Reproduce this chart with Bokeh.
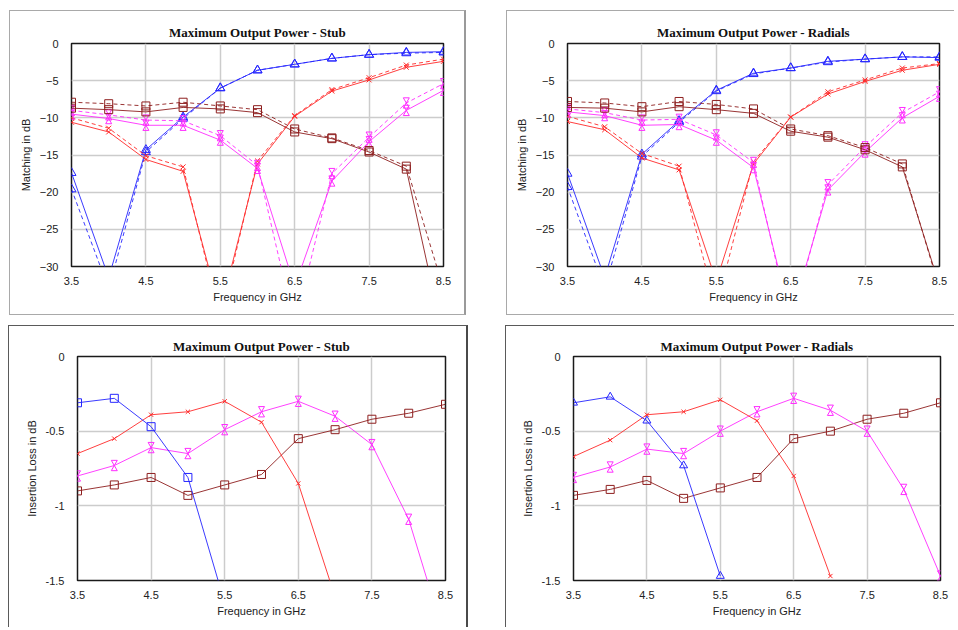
from bokeh.plotting import figure
from bokeh.layouts import column, row
from bokeh.models import FixedTicker, ColumnDataSource
from bokeh.transform import dodge
from bokeh.embed import file_html
from bokeh.resources import INLINE

# ---------------- data ----------------
freq = [3.5, 4.0, 4.5, 5.0, 5.5, 6.0, 6.5, 7.0, 7.5, 8.0, 8.5]
x_ticks = [3.5, 4.5, 5.5, 6.5, 7.5, 8.5]
match_ticks = [0, -5, -10, -15, -20, -25, -30]
loss_ticks = [0, -0.5, -1, -1.5]
loss_tick_labels = ["0", "-0.5", "-1", "-1.5"]

titles = ["Maximum Output Power - Stub", "Maximum Output Power - Radials",
          "Maximum Output Power - Stub", "Maximum Output Power - Radials"]
match_label = "Matching in dB"
loss_label = "Insertion Loss in dB"
freq_label = "Frequency in GHz"

# Matching, stub (solid / dashed)
stub_blue_solid = [-17.4, -31.5, -14.3, -9.9, -6.0, -3.6, -2.8, -2.0, -1.5, -1.2, -1.1]
stub_blue_dash = [-19.6, -33.0, -14.6, -10.1, -6.0, -3.6, -2.8, -2.0, -1.5, -1.3, -1.2]
stub_red_solid = [-10.6, -11.9, -15.6, -17.2, -36.0, -16.2, -9.8, -6.4, -4.9, -3.2, -2.4]
stub_red_dash = [-10.0, -11.4, -15.1, -16.6, -37.0, -15.8, -9.7, -6.2, -4.6, -2.9, -2.1]
stub_mag_solid = [-9.5, -10.1, -11.0, -11.0, -13.0, -16.8, -32.7, -18.5, -13.2, -9.0, -6.3]
stub_mag_dash = [-9.0, -9.6, -10.3, -10.4, -12.4, -16.4, -38.0, -17.5, -12.6, -8.0, -5.4]
stub_brown_solid = [-8.7, -8.9, -9.2, -8.6, -8.8, -9.3, -11.9, -12.8, -14.6, -16.9, -39.6]
stub_brown_dash = [-7.9, -8.1, -8.4, -7.9, -8.4, -8.9, -11.5, -12.7, -14.4, -16.5, -33.0]

# Matching, radials (solid / dashed)
rad_blue_solid = [-17.5, -31.5, -14.9, -10.4, -6.3, -4.0, -3.3, -2.4, -2.1, -1.8, -1.9]
rad_blue_dash = [-19.3, -33.0, -15.2, -10.6, -6.4, -4.1, -3.3, -2.5, -2.1, -1.8, -1.8]
rad_red_solid = [-10.5, -11.6, -15.4, -17.0, -32.0, -16.2, -9.9, -6.8, -5.1, -3.6, -2.8]
rad_red_dash = [-9.8, -11.2, -14.8, -16.5, -35.5, -15.9, -9.9, -6.5, -4.9, -3.3, -2.7]
rad_mag_solid = [-9.2, -9.7, -11.0, -10.9, -13.0, -16.7, -37.0, -19.7, -14.6, -10.0, -7.1]
rad_mag_dash = [-8.8, -9.3, -10.3, -10.2, -12.3, -16.0, -38.0, -19.0, -13.9, -9.3, -6.5]
rad_brown_solid = [-8.6, -8.7, -9.2, -8.5, -8.9, -9.4, -11.8, -12.6, -14.3, -16.6, -32.6]
rad_brown_dash = [-7.8, -8.0, -8.5, -7.8, -8.2, -8.8, -11.5, -12.4, -14.0, -16.2, -33.0]

# Insertion loss, stub
il_stub_blue = [-0.31, -0.28, -0.47, -0.81, -1.65]
il_stub_red = [-0.65, -0.55, -0.39, -0.37, -0.30, -0.44, -0.85, -1.61]
il_stub_mag = [-0.80, -0.73, -0.61, -0.65, -0.49, -0.37, -0.30, -0.40, -0.59, -1.09, -1.90]
il_stub_brown = [-0.90, -0.86, -0.81, -0.93, -0.86, -0.79, -0.55, -0.49, -0.42, -0.38, -0.32]

# Insertion loss, radials
il_rad_blue = [-0.31, -0.27, -0.43, -0.73, -1.47]
il_rad_red = [-0.67, -0.56, -0.39, -0.37, -0.29, -0.43, -0.80, -1.47]
il_rad_mag = [-0.81, -0.74, -0.62, -0.65, -0.50, -0.37, -0.28, -0.36, -0.50, -0.89, -1.47]
il_rad_brown = [-0.93, -0.89, -0.83, -0.95, -0.88, -0.81, -0.55, -0.50, -0.42, -0.38, -0.31]

# ---------------- styling ----------------
BLUE = "#2626ff"
RED = "#ff2a2a"
MAG = "#ff2cff"
BROWN = "#8e1f1f"
GRID = "#cccccc"
SANS = "Liberation Sans"
SERIF = "Liberation Serif"


def make_fig(title, ylabel, yrange, yticks, w, h, bl, br, bt, bb, styles, margin, tstand):
    p = figure(width=w, height=h, x_range=(3.5, 8.5), y_range=yrange,
               output_backend="svg", toolbar_location=None,
               min_border_left=bl, min_border_right=br,
               min_border_top=bt, min_border_bottom=bb,
               background_fill_color="white", border_fill_color="white")
    p.styles = styles
    p.margin = margin
    p.title.text = title
    p.title.text_font = SERIF
    p.title.text_font_style = "bold"
    p.title.text_font_size = "13px"
    p.title.align = "center"
    p.title.standoff = tstand
    p.title.text_color = "#111111"
    p.outline_line_color = "#1a1a1a"
    p.outline_line_width = 1.5
    p.xaxis.ticker = FixedTicker(ticks=x_ticks)
    p.yaxis.ticker = FixedTicker(ticks=yticks)
    p.xgrid.ticker = FixedTicker(ticks=x_ticks)
    p.ygrid.ticker = FixedTicker(ticks=yticks)
    p.grid.grid_line_color = GRID
    p.grid.grid_line_width = 1.5
    p.axis.axis_line_color = None
    p.axis.major_tick_line_color = None
    p.axis.minor_tick_line_color = None
    p.axis.major_tick_out = 0
    p.axis.major_tick_in = 0
    p.axis.major_label_text_font = SANS
    p.axis.major_label_text_font_size = "11px"
    p.axis.major_label_text_color = "#222222"
    p.axis.axis_label_text_font = SANS
    p.axis.axis_label_text_font_size = "11px"
    p.axis.axis_label_text_font_style = "normal"
    p.axis.axis_label_text_color = "#222222"
    p.xaxis.axis_label = freq_label
    p.yaxis.axis_label = ylabel
    p.xaxis.major_label_standoff = 10
    p.yaxis.major_label_standoff = 13
    p.xaxis.axis_label_standoff = 3
    return p


def add_series(p, xs, ys, color, marker, dash, msize, hg_shift):
    src = ColumnDataSource(dict(x=xs[:len(ys)], y=ys))
    p.line("x", "y", source=src, line_color=color, line_width=1,
           line_dash=dash, line_alpha=0.9)
    if marker == "hourglass":
        p.scatter("x", dodge("y", hg_shift), source=src, marker="inverted_triangle",
                  size=msize, fill_color=None, line_color=color, line_width=1)
        p.scatter("x", dodge("y", -hg_shift), source=src, marker="triangle",
                  size=msize, fill_color=None, line_color=color, line_width=1)
    else:
        p.scatter("x", "y", source=src, marker=marker, size=msize,
                  fill_color=None, line_color=color, line_width=1)


TOP_BORDER = "1px solid #a9a9a9"
BOT_BORDER = "1px solid #5a5a5a"

p1 = make_fig(titles[0], match_label, (-30, 0), match_ticks, 457, 305, 61, 24, 32, 50,
              {"border-left": TOP_BORDER, "border-top": TOP_BORDER,
               "border-bottom": TOP_BORDER, "border-right": "2px solid #9a9a9a"},
              (10, 0, 0, 9), 7)
p2 = make_fig(titles[1], match_label, (-30, 0), match_ticks, 448, 305, 60, 16, 32, 50,
              {"border-left": TOP_BORDER, "border-top": TOP_BORDER,
               "border-bottom": TOP_BORDER},
              (10, 0, 0, 40), 7)
p3 = make_fig(titles[2], loss_label, (-1.5, 0), loss_ticks, 460, 302, 68, 24, 30, 48,
              {"border-left": BOT_BORDER, "border-top": BOT_BORDER,
               "border-right": "2px solid #4a4a4a"},
              (10, 0, 0, 8), 5)
p4 = make_fig(titles[3], loss_label, (-1.5, 0), loss_ticks, 449, 302, 67, 15, 30, 48,
              {"border-left": BOT_BORDER, "border-top": BOT_BORDER},
              (10, 0, 0, 37), 5)

for p in (p3, p4):
    p.yaxis.major_label_overrides = {t: s for t, s in zip(loss_ticks, loss_tick_labels)}

TOP_HG = 0.46
BOT_HG = 0.023
DASH = "4 3"

for p, series in ((p1, [(stub_blue_solid, stub_blue_dash, BLUE, "triangle", 9),
                        (stub_red_solid, stub_red_dash, RED, "x", 7),
                        (stub_mag_solid, stub_mag_dash, MAG, "hourglass", 6),
                        (stub_brown_solid, stub_brown_dash, BROWN, "square", 8)]),
                  (p2, [(rad_blue_solid, rad_blue_dash, BLUE, "triangle", 9),
                        (rad_red_solid, rad_red_dash, RED, "x", 7),
                        (rad_mag_solid, rad_mag_dash, MAG, "hourglass", 6),
                        (rad_brown_solid, rad_brown_dash, BROWN, "square", 8)])):
    for solid, dashed, color, marker, ms in series:
        add_series(p, freq, dashed, color, marker, DASH, ms, TOP_HG)
        add_series(p, freq, solid, color, marker, "solid", ms, TOP_HG)

add_series(p3, freq, il_stub_brown, BROWN, "square", "solid", 8, BOT_HG)
add_series(p3, freq, il_stub_mag, MAG, "hourglass", "solid", 6, BOT_HG)
add_series(p3, freq, il_stub_red, RED, "x", "solid", 6, BOT_HG)
add_series(p3, freq, il_stub_blue, BLUE, "square", "solid", 8, BOT_HG)

add_series(p4, freq, il_rad_brown, BROWN, "square", "solid", 8, BOT_HG)
add_series(p4, freq, il_rad_mag, MAG, "hourglass", "solid", 6, BOT_HG)
add_series(p4, freq, il_rad_red, RED, "x", "solid", 6, BOT_HG)
add_series(p4, freq, il_rad_blue, BLUE, "triangle", "solid", 8, BOT_HG)

layout = column(row(p1, p2, spacing=0), row(p3, p4, spacing=0), spacing=0)

open("out.html", "w").write(file_html(layout, INLINE))
